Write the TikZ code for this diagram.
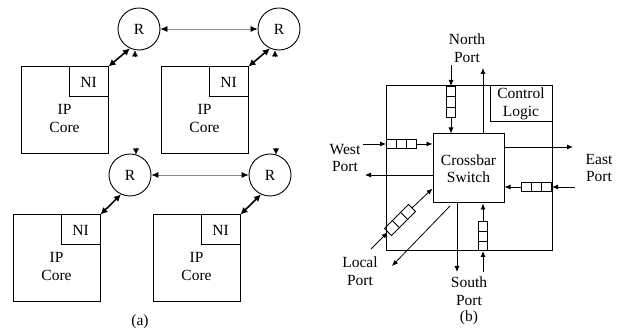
\documentclass[tikz,border=0pt]{standalone}
\usepackage{fontspec}
\setmainfont{Liberation Serif}
\usetikzlibrary{positioning, arrows.meta, calc}

% three cells of an input buffer
\newcommand{\bufsplit}[1]{%
  \draw[line width=0.9pt] ($(#1.north west)!1/3!(#1.north east)$) -- ($(#1.south west)!1/3!(#1.south east)$)
                          ($(#1.north west)!2/3!(#1.north east)$) -- ($(#1.south west)!2/3!(#1.south east)$);}

\begin{document}
\begin{tikzpicture}[
    x=1pt, y=-1pt,
    font=\fontsize{15.5}{17.5}\selectfont,
    router/.style={circle, draw, line width=0.9pt, minimum size=42pt, inner sep=0pt},
    core/.style={rectangle, draw, line width=1pt, minimum width=87pt, minimum height=87pt},
    nibox/.style={rectangle, draw, line width=1pt, minimum width=39pt, minimum height=30pt, inner sep=0pt, anchor=north east},
    caption/.style={align=center, inner sep=0pt},
    link/.style={{Latex[length=7pt, width=6pt, color=black]}-{Latex[length=7pt, width=6pt, color=black]}, black!45, line width=0.6pt},
    nilink/.style={{Latex[length=7pt, width=7pt]}-{Latex[length=7pt, width=7pt]}, line width=1.6pt},
    stub/.style={-{Latex[length=6pt, width=6pt]}, line width=0.4pt},
    outerbox/.style={rectangle, draw, line width=1pt, minimum width=166pt, minimum height=165pt},
    xbarbox/.style={rectangle, draw, line width=1pt, minimum width=71pt, minimum height=69pt, align=center, inner sep=0pt},
    ctrlbox/.style={rectangle, draw, line width=1pt, minimum width=62pt, minimum height=36pt, align=center, inner sep=0pt, anchor=north east},
    bufbox/.style={rectangle, draw, line width=0.9pt, minimum width=30pt, minimum height=8.5pt, inner sep=0pt},
    arr/.style={-{Latex[length=6pt, width=5pt]}, line width=0.8pt}
]
\useasboundingbox (0,0) rectangle (619,336);

% ==================== (a): ROUTERS AND IP CORES ====================
\node[router] (rtl) at (139,29) {R};
\node[router] (rtr) at (279,29) {R};
\node[router] (rbl) at (130,175) {R};
\node[router] (rbr) at (270,175) {R};

\node[core] (core1) at (64.5,110.5) {};
\node[core] (core2) at (204.5,110.5) {};
\node[core] (core3) at (56.5,258.5) {};
\node[core] (core4) at (196.5,258.5) {};

\node[nibox] (ni1) at (core1.north east) {NI};
\node[nibox] (ni2) at (core2.north east) {NI};
\node[nibox] (ni3) at (core3.north east) {NI};
\node[nibox] (ni4) at (core4.north east) {NI};

\node[caption] (ip1) at ($(core1)+(0,8)$) {IP\\Core};
\node[caption] (ip2) at ($(core2)+(0,8)$) {IP\\Core};
\node[caption] (ip3) at ($(core3)+(0,8)$) {IP\\Core};
\node[caption] (ip4) at ($(core4)+(0,8)$) {IP\\Core};

% router links
\draw[link] (rtl) -- (rtr);
\draw[link] (rbl) -- (rbr);

% NI to router
\draw[nilink] (core1.north east) -- (rtl.245);
\draw[nilink] (core2.north east) -- (rtr.245);
\draw[nilink] (core3.north east) -- (rbl.245);
\draw[nilink] (core4.north east) -- (rbr.245);

% vertical links (only the tips are left)
\draw[stub] ($(rtl.south)+(-4,6)$) -- ($(rtl.south)+(-4,0)$);
\draw[stub] ($(rtr.south)+(-4,6)$) -- ($(rtr.south)+(-4,0)$);
\draw[stub] ($(rbl.north)+(6,-6)$) -- ($(rbl.north)+(6,1)$);
\draw[stub] ($(rbr.north)+(6,-6)$) -- ($(rbr.north)+(6,1)$);

\node[caption] (capa) at (140,322) {(a)};

% ==================== (b): ROUTER INSIDE ====================
\node[outerbox] (outer) at (469,168.5) {};
\node[ctrlbox] (ctrl) at (outer.north east) {Control\\Logic};
\node[xbarbox] (xbar) at (468.5,168.5) {Crossbar\\Switch};

% input buffers
\node[bufbox, rotate=-90, minimum width=31pt, minimum height=9pt, anchor=west] (nbuf) at (451,86) {};
\node[bufbox, anchor=west] (wbuf) at (386,144) {};
\node[bufbox, anchor=east] (ebuf) at (552,187) {};
\node[bufbox, rotate=90, minimum width=29pt, minimum height=9pt, anchor=west] (sbuf) at (483,251) {};
\node[bufbox, rotate=45, minimum width=34pt, minimum height=10pt] (lbuf) at (400,220) {};
\bufsplit{nbuf}
\bufsplit{wbuf}
\bufsplit{ebuf}
\bufsplit{sbuf}
\bufsplit{lbuf}

% port ends
\coordinate (nin) at (451,65);
\coordinate (nout) at (483,68);
\coordinate (win) at (363,144);
\coordinate (wout) at (365,175);
\coordinate (eout) at (573,147);
\coordinate (ein) at (575,187);
\coordinate (sout) at (457,272);
\coordinate (sin) at (483,272);
\coordinate (lin) at (371,249);
\coordinate (lend) at ($(xbar.south west)+(0,-15)$);
\coordinate (lstart) at (450,206);
\coordinate (lout) at (392,266);

% North
\draw[arr] (nin) -- (nbuf.west);
\draw[arr] (nbuf.east) -- (nbuf.east |- xbar.north);
\draw[arr] (xbar.north -| nout) -- (nout);
% West
\draw[arr] (win) -- (wbuf.west);
\draw[arr] (wbuf.east) -- (wbuf.east -| xbar.west);
\draw[arr] (xbar.west |- wout) -- (wout);
% East
\draw[arr] (xbar.east |- eout) -- (eout);
\draw[arr] (ein) -- (ebuf.east);
\draw[arr] (ebuf.west) -- (ebuf.west -| xbar.east);
% South
\draw[arr] (xbar.south -| sout) -- (sout);
\draw[arr] (sin) -- (sbuf.west);
\draw[arr] (sbuf.east) -- (sbuf.east |- xbar.south);
% Local
\draw[arr] (lin) -- (lbuf.west);
\draw[arr] (lbuf.east) -- (lend);
\draw[arr] (lstart) -- (lout);

% port labels
\node[caption] (northlbl) at (467,48) {North\\Port};
\node[caption] (westlbl) at (345,158) {West\\Port};
\node[caption] (eastlbl) at (599,168) {East\\Port};
\node[caption] (southlbl) at (469,291) {South\\Port};
\node[caption] (locallbl) at (360,271) {Local\\Port};

\node[caption] (capb) at (469,318) {(b)};

\end{tikzpicture}
\end{document}
